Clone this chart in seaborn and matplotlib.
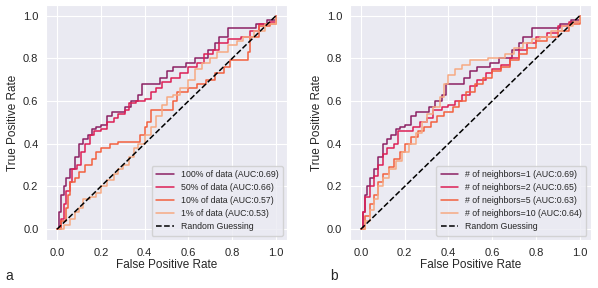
import numpy as np
import pandas as pd
import seaborn as sns
import matplotlib.pyplot as plt

# ROC curve points (fpr, tpr)
fpr_100 = [0, 0.01, 0.02, 0.03, 0.04, 0.06, 0.08, 0.1, 0.12, 0.14, 0.16, 0.18, 0.2, 0.23, 0.25, 0.28,
           0.31, 0.34, 0.37, 0.39, 0.45, 0.47, 0.5, 0.53, 0.59, 0.63, 0.66, 0.69, 0.72, 0.74, 0.78,
           0.88, 0.91, 0.96, 1.0]
tpr_100 = [0, 0.08, 0.16, 0.2, 0.24, 0.28, 0.34, 0.4, 0.42, 0.44, 0.47, 0.48, 0.49, 0.53, 0.55, 0.55,
           0.57, 0.6, 0.63, 0.68, 0.68, 0.71, 0.74, 0.76, 0.78, 0.8, 0.8, 0.84, 0.87, 0.9, 0.94,
           0.94, 0.96, 0.98, 1.0]
fpr_50 = [0, 0.02, 0.03, 0.04, 0.06, 0.07, 0.09, 0.11, 0.13, 0.15, 0.17, 0.2, 0.23, 0.26, 0.28, 0.31,
          0.33, 0.36, 0.4, 0.43, 0.45, 0.48, 0.52, 0.56, 0.6, 0.64, 0.67, 0.71, 0.74, 0.78, 0.84,
          0.88, 0.92, 0.97, 1.0]
tpr_50 = [0, 0.05, 0.12, 0.18, 0.22, 0.28, 0.3, 0.36, 0.4, 0.44, 0.46, 0.47, 0.5, 0.52, 0.54, 0.56,
          0.59, 0.6, 0.61, 0.64, 0.66, 0.69, 0.71, 0.73, 0.76, 0.78, 0.82, 0.84, 0.87, 0.89, 0.9,
          0.93, 0.96, 0.97, 1.0]
fpr_10 = [0, 0.02, 0.04, 0.05, 0.06, 0.08, 0.1, 0.13, 0.16, 0.18, 0.2, 0.24, 0.28, 0.35, 0.38, 0.4,
          0.41, 0.43, 0.49, 0.53, 0.55, 0.6, 0.64, 0.68, 0.72, 0.76, 0.79, 0.85, 0.87, 0.88, 0.92,
          0.97, 1.0]
tpr_10 = [0, 0.04, 0.1, 0.16, 0.22, 0.24, 0.27, 0.3, 0.33, 0.36, 0.38, 0.4, 0.41, 0.41, 0.44, 0.48,
          0.5, 0.56, 0.56, 0.6, 0.64, 0.66, 0.68, 0.7, 0.73, 0.76, 0.79, 0.79, 0.83, 0.9, 0.95,
          0.96, 1.0]
fpr_1 = [0, 0.03, 0.06, 0.08, 0.1, 0.12, 0.15, 0.18, 0.2, 0.23, 0.26, 0.28, 0.3, 0.33, 0.35, 0.37,
         0.4, 0.43, 0.45, 0.48, 0.5, 0.53, 0.56, 0.6, 0.63, 0.66, 0.7, 0.73, 0.78, 0.82, 0.85,
         0.9, 0.95, 1.0]
tpr_1 = [0, 0.02, 0.05, 0.08, 0.1, 0.14, 0.15, 0.17, 0.2, 0.23, 0.26, 0.28, 0.3, 0.34, 0.38, 0.4,
         0.44, 0.48, 0.53, 0.58, 0.62, 0.63, 0.66, 0.7, 0.75, 0.78, 0.8, 0.83, 0.86, 0.88, 0.9,
         0.93, 0.96, 1.0]

fpr_n2 = [0, 0.01, 0.02, 0.04, 0.06, 0.08, 0.1, 0.12, 0.15, 0.17, 0.22, 0.24, 0.27, 0.3, 0.33, 0.37,
          0.4, 0.43, 0.46, 0.5, 0.53, 0.57, 0.6, 0.64, 0.68, 0.72, 0.76, 0.8, 0.85, 0.9, 0.95, 1.0]
tpr_n2 = [0, 0.08, 0.15, 0.2, 0.25, 0.3, 0.35, 0.38, 0.4, 0.46, 0.46, 0.48, 0.5, 0.52, 0.56, 0.57,
          0.58, 0.6, 0.63, 0.67, 0.7, 0.73, 0.75, 0.77, 0.8, 0.84, 0.87, 0.9, 0.92, 0.95, 0.97, 1.0]
fpr_n5 = [0, 0.02, 0.04, 0.06, 0.08, 0.1, 0.13, 0.15, 0.18, 0.2, 0.23, 0.26, 0.29, 0.32, 0.35, 0.38,
          0.42, 0.45, 0.48, 0.52, 0.56, 0.6, 0.64, 0.68, 0.72, 0.76, 0.8, 0.85, 0.9, 0.95, 1.0]
tpr_n5 = [0, 0.06, 0.12, 0.16, 0.22, 0.26, 0.29, 0.33, 0.36, 0.4, 0.43, 0.46, 0.48, 0.5, 0.53, 0.55,
          0.57, 0.6, 0.64, 0.68, 0.71, 0.74, 0.76, 0.79, 0.82, 0.85, 0.88, 0.9, 0.93, 0.96, 1.0]
fpr_n10 = [0, 0.02, 0.04, 0.06, 0.08, 0.1, 0.13, 0.16, 0.19, 0.22, 0.25, 0.28, 0.3, 0.33, 0.36, 0.38,
           0.4, 0.43, 0.46, 0.5, 0.55, 0.58, 0.62, 0.66, 0.7, 0.74, 0.78, 0.82, 0.87, 0.92, 0.97, 1.0]
tpr_n10 = [0, 0.04, 0.09, 0.14, 0.2, 0.24, 0.28, 0.32, 0.36, 0.4, 0.45, 0.5, 0.54, 0.57, 0.62, 0.68,
           0.72, 0.75, 0.77, 0.79, 0.79, 0.8, 0.8, 0.82, 0.85, 0.87, 0.89, 0.9, 0.93, 0.95, 0.97, 1.0]

labels_a = ['100% of data (AUC:0.69)', '50% of data (AUC:0.66)',
            '10% of data (AUC:0.57)', '1% of data (AUC:0.53)']
labels_b = ['# of neighbors=1 (AUC:0.69)', '# of neighbors=2 (AUC:0.65)',
            '# of neighbors=5 (AUC:0.63)', '# of neighbors=10 (AUC:0.64)']

curves_a = [(fpr_100, tpr_100), (fpr_50, tpr_50), (fpr_10, tpr_10), (fpr_1, tpr_1)]
curves_b = [(fpr_100, tpr_100), (fpr_n2, tpr_n2), (fpr_n5, tpr_n5), (fpr_n10, tpr_n10)]

colores = ['#8b2063', '#dc1f55', '#f3603f', '#f7a982']

sns.set_style("darkgrid")
plt.rcParams['font.family'] = ['Liberation Sans', 'DejaVu Sans']

fig = plt.figure(figsize=(5.98, 2.88), dpi=100)
ax_a = fig.add_axes([0.077, 0.167, 0.403, 0.816])
ax_b = fig.add_axes([0.585, 0.167, 0.403, 0.816])


def dibujar(ax, curves, labels):
    for (x, y), lab, c in zip(curves, labels, colores):
        df = pd.DataFrame({'fpr': x, 'tpr': y})
        sns.lineplot(data=df, x='fpr', y='tpr', ax=ax, color=c, label=lab,
                     estimator=None, sort=False, drawstyle='steps-post', linewidth=1.1)
    ax.plot([0, 1], [0, 1], 'k--', linewidth=1.1, label='Random Guessing')
    ax.set_xlim(-0.05, 1.05)
    ax.set_ylim(-0.05, 1.05)
    ax.set_xticks(np.arange(0, 1.01, 0.2))
    ax.set_yticks(np.arange(0, 1.01, 0.2))
    ax.tick_params(labelsize=8, pad=2)
    ax.set_xlabel('False Positive Rate', fontsize=8.5, labelpad=1)
    ax.set_ylabel('True Positive Rate', fontsize=8.5, labelpad=3)
    ax.legend(loc='lower right', fontsize=6.3, handlelength=2.0, labelspacing=0.45,
              borderpad=0.5)


dibujar(ax_a, curves_a, labels_a)
dibujar(ax_b, curves_b, labels_b)

fig.text(5 / 598, 1 - 276 / 288, 'a', fontsize=10, va='center')
fig.text(330 / 598, 1 - 276 / 288, 'b', fontsize=10, va='center')

fig.savefig('out.png', dpi=100)
